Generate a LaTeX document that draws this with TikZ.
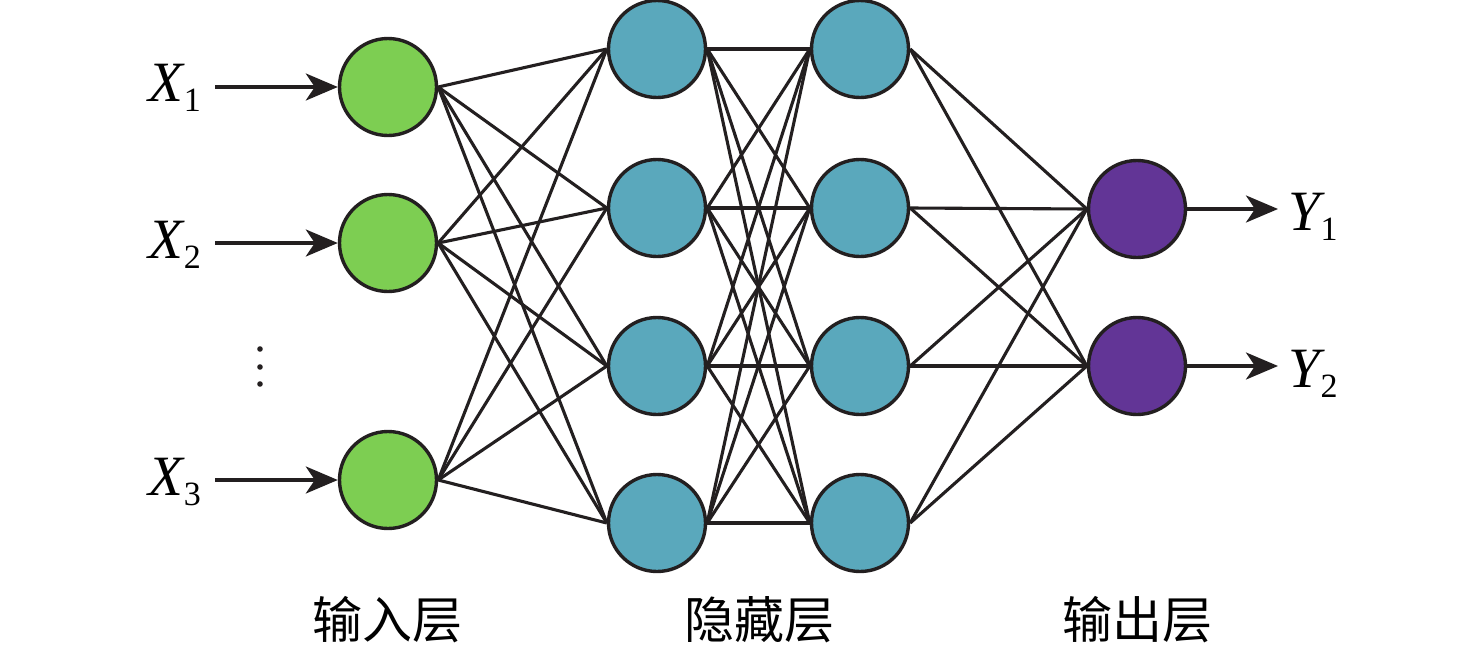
\documentclass[tikz,border=0pt]{standalone}
\usepackage{fontspec}
\setmainfont{Liberation Serif}
\newfontfamily\varfont{Liberation Serif}
\newfontfamily\cjk{Noto Sans CJK SC}
\usetikzlibrary{arrows.meta}
\definecolor{ingreen}{HTML}{7DCE52}
\definecolor{hidblue}{HTML}{5AA8BC}
\definecolor{outpurple}{HTML}{623596}
\definecolor{ink}{HTML}{231F20}
\newcommand{\varlab}[2]{{\varfont\fontsize{57}{60}\selectfont\itshape #1}\kern1pt\raisebox{-10pt}{\varfont\fontsize{34}{36}\selectfont #2}}
\begin{document}
\begin{tikzpicture}[x=1pt,y=-1pt,
  neuron/.style={circle,draw=ink,line width=3.4pt,minimum size=97pt,inner sep=0pt},
  inneuron/.style={neuron,fill=ingreen},
  hidneuron/.style={neuron,fill=hidblue},
  outneuron/.style={neuron,fill=outpurple},
  link/.style={draw=ink,line width=3.1pt},
  feed/.style={draw=ink,line width=3.4pt,-{Stealth[length=32pt,width=27pt,inset=9pt]}},
  varnode/.style={anchor=base west,inner sep=0pt,outer sep=0pt},
  layerlab/.style={font=\cjk\fontsize{50}{54}\selectfont,inner sep=0pt}]
\useasboundingbox (0,0) rectangle (1476,651);
\fill[white] (0,0) rectangle (1476,651);

% input layer
\node[inneuron] (i1) at (388,87) {};
\node[inneuron] (i2) at (388,243) {};
\node[inneuron] (i3) at (388,480) {};
% hidden layer 1
\node[hidneuron] (a1) at (657,49) {};
\node[hidneuron] (a2) at (657,208) {};
\node[hidneuron] (a3) at (657,366) {};
\node[hidneuron] (a4) at (657,523) {};
% hidden layer 2
\node[hidneuron] (b1) at (860,49) {};
\node[hidneuron] (b2) at (860,208) {};
\node[hidneuron] (b3) at (860,366) {};
\node[hidneuron] (b4) at (860,523) {};
% output layer
\node[outneuron] (o1) at (1137,209) {};
\node[outneuron] (o2) at (1137,366) {};

% connections
\foreach \i in {1,2,3}{\foreach \j in {1,2,3,4}{\draw[link] (i\i.east) -- (a\j.west);}}
\foreach \i in {1,2,3,4}{\foreach \j in {1,2,3,4}{\draw[link] (a\i.east) -- (b\j.west);}}
\foreach \i in {1,2,3,4}{\foreach \j in {1,2}{\draw[link] (b\i.east) -- (o\j.west);}}

% input labels and arrows
\node[varnode] (x1) at (148,101) {\varlab{X}{1}};
\node[varnode] (x2) at (148,258) {\varlab{X}{2}};
\node[varnode] (x3) at (148,495) {\varlab{X}{3}};
\coordinate (x1s) at (215,87);
\coordinate (x2s) at (215,243);
\coordinate (x3s) at (215,480);
\draw[feed] (x1s) -- (i1.west);
\draw[feed] (x2s) -- (i2.west);
\draw[feed] (x3s) -- (i3.west);

% dots
\fill[ink] (260,349) circle (2.8pt);
\fill[ink] (260,367) circle (2.8pt);
\fill[ink] (260,384) circle (2.8pt);

% outputs
\node[varnode] (y1) at (1288,230) {\varlab{Y}{1}};
\node[varnode] (y2) at (1288,387) {\varlab{Y}{2}};
\coordinate (y1e) at (1278,209);
\coordinate (y2e) at (1278,366);
\draw[feed] (o1.east) -- (y1e);
\draw[feed] (o2.east) -- (y2e);

% layer labels
\node[layerlab] (l1) at (387,620) {输入层};
\node[layerlab] (l2) at (759,620) {隐藏层};
\node[layerlab] (l3) at (1137,620) {输出层};
\end{tikzpicture}
\end{document}
